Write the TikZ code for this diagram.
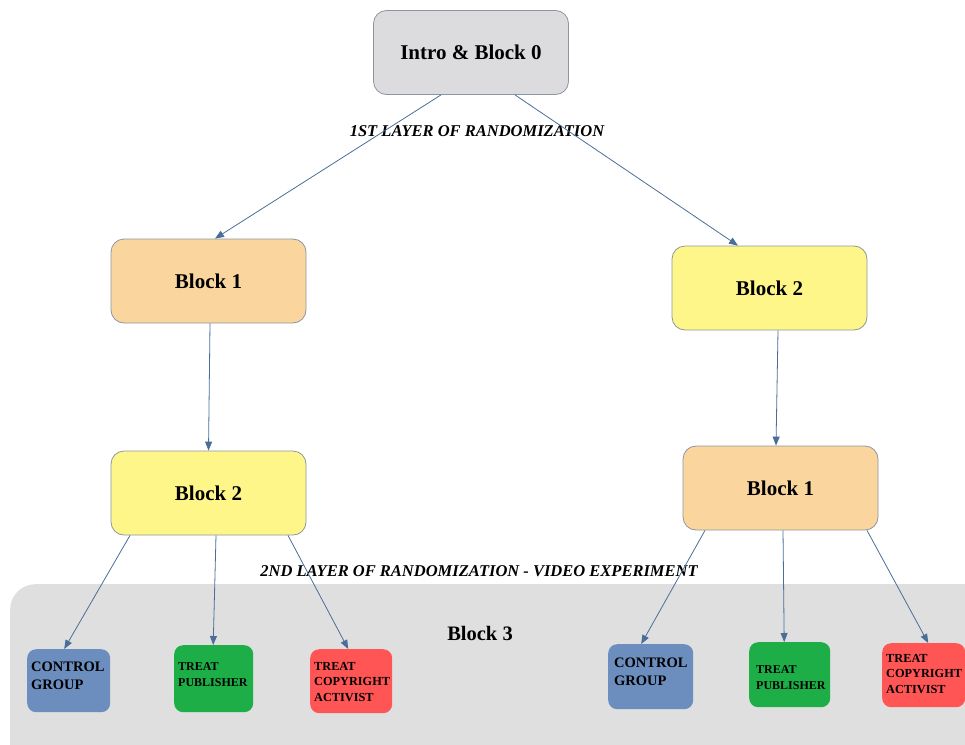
\documentclass[tikz,border=0pt]{standalone}
\usepackage{fontspec}
\setmainfont{Liberation Serif}
\usetikzlibrary{calc,arrows.meta}
\definecolor{introfill}{HTML}{DCDCDF}
\definecolor{orangefill}{HTML}{FAD59E}
\definecolor{yellowfill}{HTML}{FFF689}
\definecolor{boxborder}{HTML}{8C96A0}
\definecolor{arrowcol}{HTML}{4A6E98}
\definecolor{bgfill}{HTML}{DFDFDF}
\definecolor{ctrlfill}{HTML}{6C8EBF}
\definecolor{pubfill}{HTML}{1DAE47}
\definecolor{copyfill}{HTML}{FF5555}
\tikzset{
  bigbox/.style={draw=boxborder, line width=0.8pt, rounded corners=13pt, minimum width=195pt, minimum height=84pt, inner sep=0pt, font=\fontsize{21}{23}\selectfont\bfseries},
  smallbox/.style={rounded corners=9pt, inner sep=0pt, anchor=north west},
  ctltext/.style={font=\fontsize{14.5}{18}\selectfont\bfseries, align=left, anchor=north west, inner sep=0pt},
  pubtext/.style={font=\fontsize{12}{16}\selectfont\bfseries, align=left, anchor=north west, inner sep=0pt},
  coptext/.style={font=\fontsize{12.3}{15.5}\selectfont\bfseries, align=left, anchor=north west, inner sep=0pt},
  conn/.style={draw=arrowcol, line width=0.8pt, -{Triangle[length=9pt,width=7pt]}},
  layerlabel/.style={font=\fontsize{16.5}{18}\selectfont\bfseries\itshape, inner sep=0pt}
}
\begin{document}
\begin{tikzpicture}[x=1pt,y=-1pt]
\useasboundingbox (0,0) rectangle (965,744);
\begin{scope}
\clip (0,0) rectangle (965,744);
\node[fill=bgfill, rounded corners=25pt, minimum width=990pt, minimum height=190pt, anchor=north west, inner sep=0pt] (bg) at (10,584) {};
\end{scope}
\node[bigbox, fill=introfill] (intro) at (471,52.5) {Intro \& Block 0};
\node[bigbox, fill=orangefill] (b1l) at (208.5,281) {Block 1};
\node[bigbox, fill=yellowfill] (b2r) at (769.5,288) {Block 2};
\node[bigbox, fill=yellowfill] (b2l) at (208.5,493) {Block 2};
\node[bigbox, fill=orangefill] (b1r) at (780.5,488) {Block 1};
\node[layerlabel] (lay1) at (477,131) {1ST LAYER OF RANDOMIZATION};
\node[layerlabel] (lay2) at (479,571) {2ND LAYER OF RANDOMIZATION - VIDEO EXPERIMENT};
\node[font=\fontsize{20.5}{22}\selectfont\bfseries, inner sep=0pt] (b3) at (480,633) {Block 3};
% left leaves
\node[smallbox, fill=ctrlfill, minimum width=83pt, minimum height=63pt] (ctl) at (27,649) {};
\node[ctltext] (ctlt) at (31,662) {CONTROL\\GROUP};
\node[smallbox, fill=pubfill, minimum width=79pt, minimum height=67pt] (publ) at (174,645) {};
\node[pubtext] (pubt) at (178,662) {TREAT\\PUBLISHER};
\node[smallbox, fill=copyfill, minimum width=82pt, minimum height=64pt] (copl) at (310,649) {};
\node[coptext] (copt) at (314,662) {TREAT\\COPYRIGHT\\ACTIVIST};
% right leaves
\node[smallbox, fill=ctrlfill, minimum width=85pt, minimum height=65pt] (ctr) at (608,644) {};
\node[ctltext] (ctrt) at (614,658) {CONTROL\\GROUP};
\node[smallbox, fill=pubfill, minimum width=81pt, minimum height=65pt] (pubr) at (749,642) {};
\node[pubtext] (pubrt) at (756,665) {TREAT\\PUBLISHER};
\node[smallbox, fill=copyfill, minimum width=83pt, minimum height=64pt] (copr) at (882,643) {};
\node[coptext] (coprt) at (886,654) {TREAT\\COPYRIGHT\\ACTIVIST};
% connectors
\draw[conn] ([xshift=-30pt]intro.south) -- ([xshift=6.5pt]b1l.north);
\draw[conn] ([xshift=44pt]intro.south) -- ([xshift=-31.5pt]b2r.north);
\draw[conn] ([xshift=1.5pt]b1l.south) -- (b2l.north);
\draw[conn] ([xshift=8.5pt]b2r.south) -- ([xshift=-4.5pt]b1r.north);
\draw[conn] ([xshift=-78.5pt]b2l.south) -- ([xshift=-4.5pt]ctl.north);
\draw[conn] ([xshift=7.5pt]b2l.south) -- ([xshift=-0.5pt]publ.north);
\draw[conn] ([xshift=79.5pt]b2l.south) -- ([xshift=-3pt]copl.north);
\draw[conn] ([xshift=-75.5pt]b1r.south) -- ([xshift=-9.5pt]ctr.north);
\draw[conn] ([xshift=2.5pt]b1r.south) -- ([xshift=-5.5pt]pubr.north);
\draw[conn] ([xshift=86.5pt]b1r.south) -- ([xshift=4.5pt]copr.north);
\end{tikzpicture}
\end{document}
